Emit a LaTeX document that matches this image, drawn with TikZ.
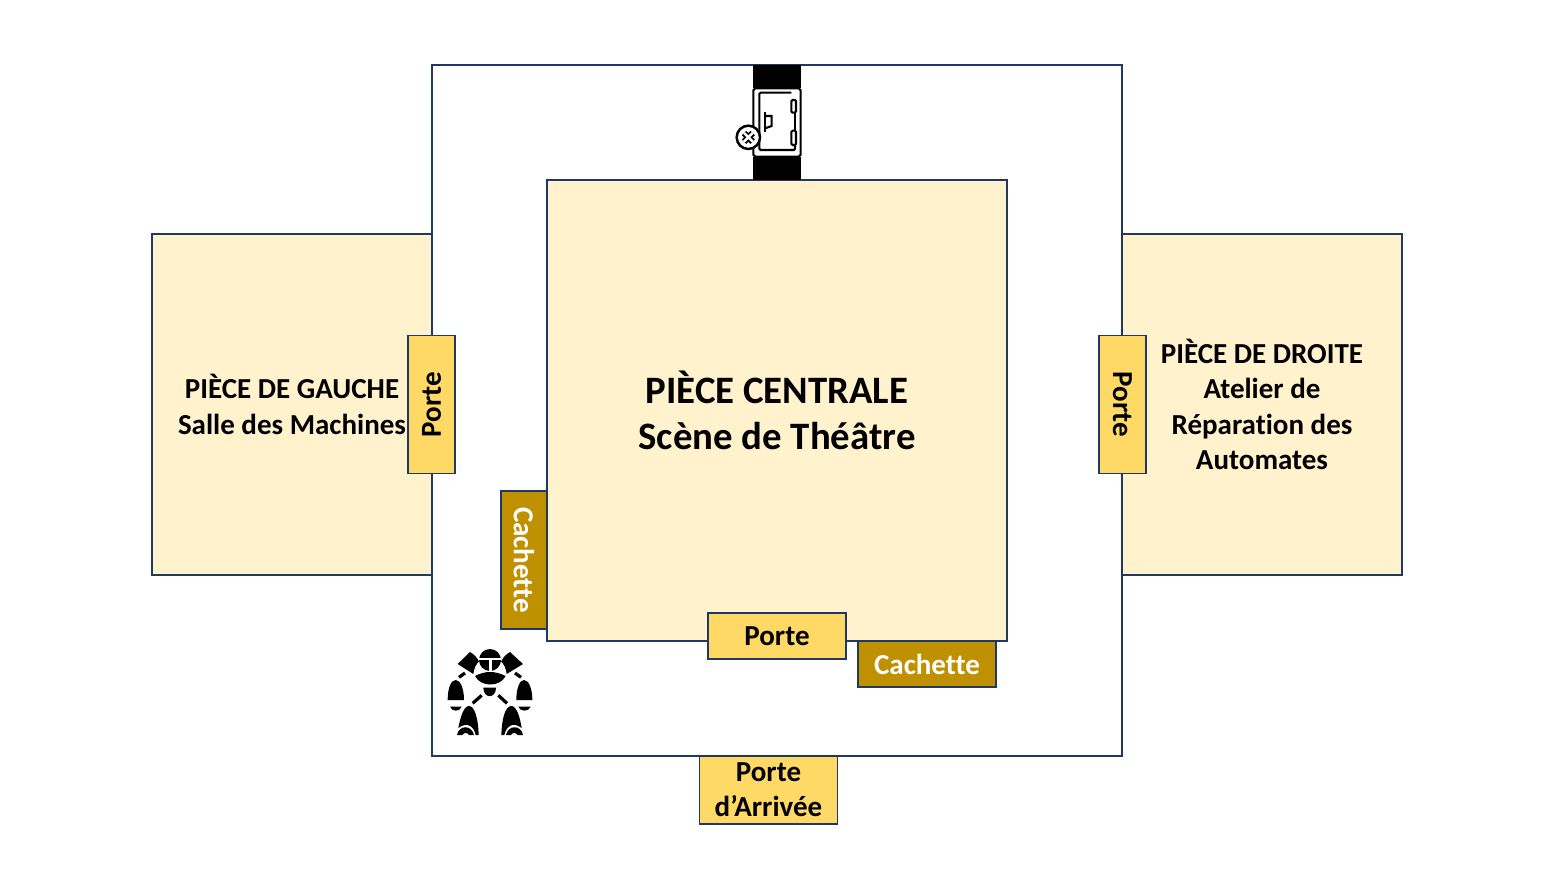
\documentclass[tikz,border=0pt]{standalone}
\usepackage{fontspec}
\setmainfont[Ligatures=NoCommon]{Carlito}
\definecolor{wallblue}{HTML}{1F3864}
\definecolor{roomfill}{HTML}{FFF2CC}
\definecolor{doorfill}{HTML}{FFD966}
\definecolor{hidefill}{HTML}{BF9000}
\tikzset{
	wall/.style={draw=wallblue,line width=1.3pt,inner sep=0pt},
	room/.style={wall,fill=roomfill,align=center,font=\fontsize{23.4}{28.4}\selectfont\bfseries},
	door/.style={wall,fill=doorfill,minimum width=3.92cm,minimum height=1.32cm,align=center,font=\fontsize{23.4}{28.4}\selectfont\bfseries},
	hide/.style={door,fill=hidefill,text=white},
	blackpart/.style={fill=black,draw=none},
	blackline/.style={draw=black,line width=1.7pt},
}
\begin{document}
\begin{tikzpicture}[x=0.0283465cm,y=-0.0283465cm]
		\useasboundingbox (0,0) rectangle (1552,871);
		% rooms
		\node (corridor) [wall,minimum width=19.56cm,minimum height=19.59cm] at (777,410.5) {};
		\node (leftroom) [room,minimum width=7.94cm,minimum height=9.67cm] at (292,404.5) {PIÈCE DE GAUCHE\\Salle des Machines};
		\node (rightroom) [room,minimum width=7.94cm,minimum height=9.67cm] at (1262,404.5) {PIÈCE DE DROITE\\Atelier de\\Réparation des\\Automates};
		\node (centerroom) [room,minimum width=13.04cm,minimum height=13.07cm,font=\fontsize{31.3}{37}\selectfont\bfseries] at (777,410.5) {PIÈCE CENTRALE\\Scène de Théâtre};
		% doors
		\node (leftdoor) [door,rotate=90] at (431.5,404.5) {Porte};
		\node (rightdoor) [door,rotate=-90] at (1122.5,404.5) {Porte};
		\node (centerdoor) [door] at (777,636) {Porte};
		\node (arrivaldoor) [door,minimum height=1.93cm] at (768.5,790) {Porte\\d’Arrivée};
		% hiding places
		\node (lefthide) [hide,rotate=-90] at (524,560) {Cachette};
		\node (bottomhide) [hide] at (927,664) {Cachette};
		% safe
		\node (safetop) [blackpart,minimum width=1.36cm,minimum height=0.65cm,inner sep=0pt] at (777,76.5) {};
		\node (safebottom) [blackpart,minimum width=1.36cm,minimum height=0.65cm,inner sep=0pt] at (777,168.5) {};
		\begin{scope}[shift={(720,60)},scale=1/3]
			\draw[blackline,fill=white,rounded corners=1.5pt] (100,85) rectangle (242,290);
			\draw[blackline,rounded corners=1pt] (214,98) -- (118,98) -- (118,270) -- (225,270) -- (225,255);
			\draw[blackline] (225,212) -- (225,158);
			\draw[blackline,rounded corners=1pt] (214,120) rectangle (228,158);
			\draw[blackline,rounded corners=1pt] (214,212) rectangle (228,255);
			\draw[blackline] (135,155) -- (135,215);
			\draw[blackline] (135,168) -- (155,168) -- (155,198) -- (135,205);
			\draw[blackline,line width=2pt,fill=white] (85,232) circle (35);
			\draw[draw=black,line width=5pt] (72,219) -- (98,245) (98,219) -- (72,245);
			\draw[draw=white,line width=2pt] (72,219) -- (98,245) (98,219) -- (72,245);
		\end{scope}
		% robot
		\begin{scope}[shift={(435,640)},scale=1/3]
			\fill[blackpart] (165,60) circle (33);
			\fill[white] (130,53) rectangle (200,60);
			\fill[white] (161,60) rectangle (170,95);
			\fill[blackpart] (105,36) -- (68,72) -- (115,102) .. controls (117,85) and (123,72) .. (132,65) .. controls (125,50) and (115,42) .. (105,36) -- cycle;
			\fill[blackpart] (225,36) -- (264,72) -- (215,102) .. controls (213,85) and (207,72) .. (198,65) .. controls (205,50) and (215,42) .. (225,36) -- cycle;
			\fill[blackpart] (120,108) .. controls (150,92) and (180,92) .. (212,108) .. controls (195,142) and (137,142) .. cycle;
			\draw[blackline,line width=2.6pt] (72,112) -- (90,99) (240,99) -- (258,112);
			\fill[blackpart] (38,180) .. controls (38,145) and (48,120) .. (62,120) .. controls (76,120) and (87,145) .. (87,180) -- cycle;
			\fill[blackpart] (244,180) .. controls (244,145) and (254,120) .. (267,120) .. controls (281,120) and (292,145) .. (292,180) -- cycle;
			\fill[blackpart] (45,200) -- (80,200) .. controls (75,216) and (50,216) .. cycle;
			\fill[blackpart] (250,200) -- (287,200) .. controls (282,216) and (255,216) .. cycle;
			\fill[blackpart] (145,143) -- (183,143) .. controls (183,177) and (145,177) .. cycle;
			\draw[blackline,line width=2.6pt] (113,190) -- (140,166) (190,166) -- (216,190);
			\fill[blackpart] (70,264) .. controls (76,232) and (86,198) .. (102,198) .. controls (120,198) and (130,240) .. (131,285) -- (122,285) .. controls (116,258) and (96,244) .. (70,264) -- cycle;
			\fill[blackpart] (199,285) .. controls (200,240) and (210,198) .. (229,198) .. controls (245,198) and (255,232) .. (260,264) .. controls (234,244) and (214,258) .. (208,285) -- cycle;
			\fill[blackpart] (66,285) .. controls (72,254) and (110,254) .. (117,285) -- (102,285) .. controls (98,277) and (86,277) .. (82,285) -- cycle;
			\fill[blackpart] (213,285) .. controls (220,254) and (258,254) .. (264,285) -- (248,285) .. controls (244,277) and (232,277) .. (228,285) -- cycle;
		\end{scope}
		\end{tikzpicture}
\end{document}
